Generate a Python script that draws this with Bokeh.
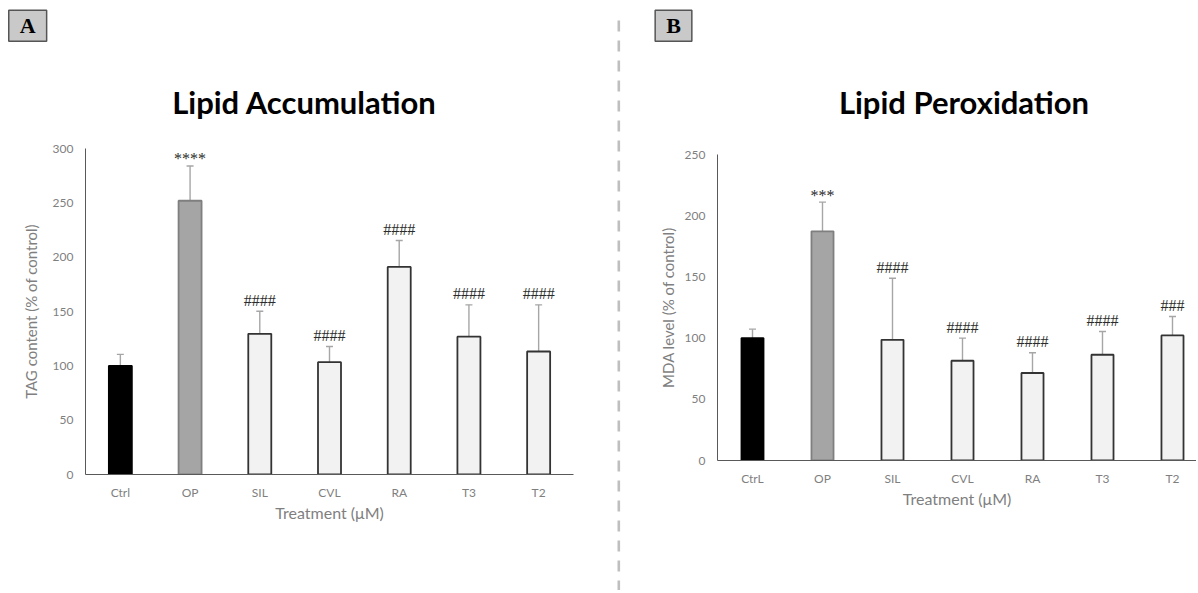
from bokeh.plotting import figure
from bokeh.models import Range1d, FixedTicker, Label, Whisker, TeeHead, ColumnDataSource
from bokeh.layouts import row, column
from bokeh.embed import file_html
from bokeh.resources import INLINE
from bokeh.core.properties import value

# ---------------- data ----------------
categories_a = ["Ctrl", "OP", "SIL", "CVL", "RA", "T3", "T2"]
categories_b = ["CtrL", "OP", "SIL", "CVL", "RA", "T3", "T2"]

tag_mean = [100, 251.9, 129.5, 103.4, 191.0, 126.8, 113.2]
tag_upper = [110.5, 283.9, 150.2, 117.8, 215.4, 156.1, 156.1]
tag_marks = ["", "****", "####", "####", "####", "####", "####"]

mda_mean = [100, 187.2, 98.6, 81.5, 71.5, 86.4, 102.2]
mda_upper = [107.3, 211.1, 148.9, 100.0, 88.0, 105.4, 117.7]
mda_marks = ["", "***", "####", "####", "####", "####", "###"]

yticks_a = [0, 50, 100, 150, 200, 250, 300]
yticks_b = [0, 50, 100, 150, 200, 250]

SANS = "Lato"
SERIF = "Liberation Serif"
H = 590
HEAD = 140


def blank(width, height):
    f = figure(width=width, height=height, output_backend="svg", toolbar_location=None,
               x_range=Range1d(0, width), y_range=Range1d(0, height),
               min_border_left=0, min_border_right=0, min_border_top=0, min_border_bottom=0)
    f.frame_align = False
    f.axis.visible = False
    f.grid.visible = False
    f.outline_line_color = None
    return f


def header(width, title, title_x, letter, letter_x):
    f = blank(width, HEAD)
    f.add_layout(Label(x=title_x, y=38.3, text=title, text_font=SANS, text_font_size="31px",
                       text_font_style="bold", text_color="#000000",
                       text_align="center", text_baseline="alphabetic"))
    f.add_layout(Label(x=letter_x, y=114.7, text=letter, text_font=SERIF, text_font_size="22px",
                       text_font_style="bold", text_color="#000000",
                       text_align="center", text_baseline="alphabetic",
                       background_fill_color="#c9c9c9",
                       border_line_color="#555555", border_line_width=1.5,
                       padding=dict(left=11, right=11, top=3, bottom=3)))
    return f


def panel(cats, means, uppers, marks, yticks, width, min_left, min_right,
          min_top, min_bottom, xend, bar_w, ylabel, ylabel_standoff):
    p = figure(width=width, height=H - HEAD, output_backend="svg", toolbar_location=None,
               x_range=Range1d(-0.5, xend), y_range=Range1d(yticks[0], yticks[-1]),
               min_border_left=min_left, min_border_right=min_right,
               min_border_top=min_top, min_border_bottom=min_bottom)
    p.frame_align = False
    p.outline_line_color = None
    p.xgrid.visible = False
    p.ygrid.visible = False

    idx = list(range(len(cats)))
    fills = ["#000000", "#a5a5a5"] + ["#f2f2f2"] * (len(cats) - 2)
    lines = ["#000000", "#7f7f7f"] + ["#333333"] * (len(cats) - 2)
    src = ColumnDataSource(dict(x=idx, top=means, upper=uppers, fill=fills, line=lines))

    p.vbar(x="x", top="top", bottom=0, width=bar_w, source=src,
           fill_color="fill", line_color="line", line_width=1.8)

    w = Whisker(base="x", lower="top", upper="upper", source=src, dimension="height",
                line_color="#a6a6a6", line_width=1.4,
                upper_head=TeeHead(size=7, line_color="#a6a6a6", line_width=1.4),
                lower_head=None)
    p.add_layout(w)

    sx = [i for i, m in enumerate(marks) if m.startswith("*")]
    hx = [i for i, m in enumerate(marks) if m.startswith("#")]
    p.text(x=sx, y=[uppers[i] for i in sx], text=[marks[i] for i in sx],
           text_font=value(SERIF), text_font_size="16px", text_color="#2b2b2b",
           text_align="center", text_baseline="alphabetic", y_offset=-7)
    p.text(x=hx, y=[uppers[i] for i in hx], text=[marks[i] for i in hx],
           text_font=value(SERIF), text_font_size="16px", text_color="#2b2b2b",
           text_align="center", text_baseline="alphabetic", y_offset=-11)

    p.xaxis.ticker = FixedTicker(ticks=idx)
    p.xaxis.major_label_overrides = {i: c for i, c in zip(idx, cats)}
    p.yaxis.ticker = FixedTicker(ticks=yticks)
    for ax in (p.xaxis[0], p.yaxis[0]):
        ax.axis_line_color = "#595959"
        ax.axis_line_width = 1
        ax.major_tick_line_color = None
        ax.minor_tick_line_color = None
        ax.major_tick_out = 0
        ax.major_tick_in = 0
        ax.major_label_text_font = SANS
        ax.major_label_text_font_size = "12px"
        ax.major_label_text_color = "#7f7f7f"
        ax.axis_label_text_font = SANS
        ax.axis_label_text_font_style = "normal"
        ax.axis_label_text_color = "#7f7f7f"
    p.yaxis.major_label_standoff = 12
    p.xaxis.major_label_standoff = 10
    p.xaxis.axis_label = "Treatment (μM)"
    p.xaxis.axis_label_text_font_size = "16px"
    p.xaxis.axis_label_standoff = 0
    p.yaxis.axis_label = ylabel
    p.yaxis.axis_label_text_font_size = "15px"
    p.yaxis.axis_label_standoff = ylabel_standoff
    return p


pa = panel(categories_a, tag_mean, tag_upper, tag_marks, yticks_a,
           width=610, min_left=85, min_right=37, min_top=8, min_bottom=116,
           xend=6.5, bar_w=0.33, ylabel="TAG content (% of control)", ylabel_standoff=10)
ha = header(610, "Lipid Accumulation", 304, "A", 27.2)

pb = panel(categories_b, mda_mean, mda_upper, mda_marks, yticks_b,
           width=570, min_left=91, min_right=0, min_top=14, min_bottom=130,
           xend=6.343, bar_w=0.315, ylabel="MDA level (% of control)", ylabel_standoff=5)
hb = header(570, "Lipid Peroxidation", 337.5, "B", 47)

# dashed divider between the panels
div = blank(16, H)
div.segment(x0=[8.3], y0=[H - 20], x1=[8.3], y1=[0], line_color="#bfbfbf",
            line_width=2.6, line_dash="11 9")

layout = row(column(ha, pa), div, column(hb, pb))
open("out.html", "w").write(file_html(layout, INLINE))
